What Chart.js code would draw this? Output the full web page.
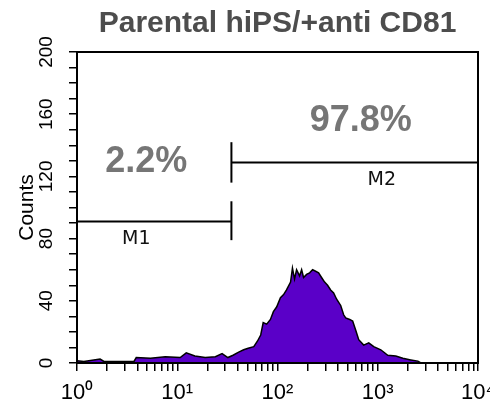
<!DOCTYPE html>
<html>
<head>
<meta charset="utf-8">
<script src="https://cdn.jsdelivr.net/npm/chart.js@4"></script>
<style>
  html, body { margin: 0; padding: 0; background: #fff; }
  #wrap { width: 490px; height: 406px; }
</style>
</head>
<body>
<div id="wrap"><canvas id="chart"></canvas></div>
<script>
// histogram: fluorescence intensity vs counts
const histX = [1, 1.17, 1.7, 1.86, 2.7, 3.7, 3.9, 5.4, 7.6, 10.7, 12.3, 15, 19, 24, 28, 32, 36, 41, 46, 51,
  58, 63, 68, 72, 78, 85, 91, 98, 107, 115, 123, 135, 141, 148, 155, 166, 174, 182, 195, 209,
  224, 240, 257, 275, 295, 316, 339, 363, 389, 427, 457, 479, 525, 562, 603, 646, 724, 813, 912, 1072,
  1259, 1514, 1778, 2138, 2512, 2692, 10000];
const histY = [1.5, 1, 2.5, 1, 1, 1, 3.5, 3, 4, 3.5, 6.5, 4.5, 3.5, 4, 6, 3.5, 5, 7, 8.5, 9.5,
  10.5, 14, 18, 26, 25, 28, 33, 36, 42, 44, 47, 52, 61, 54, 60, 56, 60, 55, 57, 58,
  60, 59, 58, 55, 52, 50, 47, 45, 41, 37, 31, 29, 28, 27, 21, 15, 11.5, 13, 10.5, 8.5,
  5, 4.5, 3, 2, 1.2, 0, 0];

// markers M1 / M2
const gateNames = ['M1', 'M2'];
const gateStart = [1, 34.7];
const gateEnd = [34.7, 10000];
const gateLevel = [91, 129];
const gateTickLow = [79, 116];
const gateTickHigh = [104, 142];
const gateLabelX = [3.9, 1096];
const gateLabelY = [79.5, 117.5];

const percentText = ['2.2%', '97.8%'];
const percentX = [4.9, 676];
const percentY = [129, 155.5];

const xTickValues = [1, 2, 3, 4, 5, 6, 7, 8, 9, 10, 20, 30, 40, 50, 60, 70, 80, 90,
  100, 200, 300, 400, 500, 600, 700, 800, 900, 1000, 2000, 3000, 4000, 5000, 6000, 7000, 8000, 9000, 10000];
const supers = ['\u2070', '\u00b9', '\u00b2', '\u00b3', '\u2074'];

Chart.defaults.font.family = "'Liberation Sans', Arial, sans-serif";
Chart.defaults.color = '#000';

const datasets = [{
  data: histX.map((x, i) => ({ x: x, y: histY[i] })),
  borderColor: '#000',
  borderWidth: 1.5,
  backgroundColor: '#5a00c8',
  fill: 'origin',
  pointRadius: 0,
  tension: 0
}];

gateNames.forEach((n, i) => {
  const seg = { borderColor: '#000', borderWidth: 2, pointRadius: 0, fill: false };
  datasets.push(Object.assign({ data: [{ x: gateStart[i], y: gateLevel[i] }, { x: gateEnd[i], y: gateLevel[i] }] }, seg));
  datasets.push(Object.assign({ data: [{ x: gateStart[i], y: gateTickLow[i] }, { x: gateStart[i], y: gateTickHigh[i] }] }, seg));
  datasets.push(Object.assign({ data: [{ x: gateEnd[i], y: gateTickLow[i] }, { x: gateEnd[i], y: gateTickHigh[i] }] }, seg));
});

const textPlugin = {
  id: 'facsText',
  afterDraw(chart) {
    const { ctx, chartArea: a, scales: { x, y } } = chart;
    ctx.save();
    // box around plot
    ctx.strokeStyle = '#000';
    ctx.lineWidth = 2;
    ctx.strokeRect(a.left, a.top, a.right - a.left, a.bottom - a.top);
    ctx.textAlign = 'center';
    ctx.textBaseline = 'middle';
    ctx.fillStyle = '#767676';
    ctx.font = "bold 36px 'Liberation Sans', Arial, sans-serif";
    percentText.forEach((t, i) => ctx.fillText(t, x.getPixelForValue(percentX[i]), y.getPixelForValue(percentY[i])));
    ctx.fillStyle = '#111';
    ctx.font = "19px 'DejaVu Sans', sans-serif";
    gateNames.forEach((t, i) => ctx.fillText(t, x.getPixelForValue(gateLabelX[i]), y.getPixelForValue(gateLabelY[i])));
    ctx.restore();
  }
};

new Chart(document.getElementById('chart'), {
  type: 'line',
  data: { datasets: datasets },
  options: {
    responsive: true,
    maintainAspectRatio: false,
    animation: false,
    layout: { padding: { left: 0, right: 12, top: 0, bottom: 0 } },
    plugins: {
      legend: { display: false },
      tooltip: { enabled: false },
      title: {
        display: true,
        fullSize: false,
        text: 'Parental hiPS/+anti CD81',
        color: '#4d4d4d',
        font: { size: 30, weight: 'bold' },
        padding: { top: 6, bottom: 10 }
      }
    },
    scales: {
      x: {
        type: 'logarithmic',
        min: 1,
        max: 10000,
        afterBuildTicks: s => { s.ticks = xTickValues.map(v => ({ value: v })); },
        afterFit: s => { s.height = 43; s.paddingLeft = 0; s.paddingRight = 0; },
        ticks: {
          autoSkip: false,
          maxRotation: 0,
          padding: 9,
          font: { size: 22 },
          callback: v => {
            const e = Math.round(Math.log10(v));
            return Math.abs(v - Math.pow(10, e)) < 1e-6 ? '10' + supers[e] : '';
          }
        },
        grid: { drawOnChartArea: false, drawTicks: true, tickLength: 8, color: '#000', lineWidth: 1.5 },
        border: { display: true, color: '#000', width: 2 }
      },
      y: {
        min: 0,
        max: 200,
        afterFit: s => { s.width = 77; s.paddingTop = 0; s.paddingBottom = 0; },
        title: { display: true, text: 'Counts', font: { size: 21 }, padding: { top: 15, bottom: 0 } },
        ticks: {
          stepSize: 10,
          autoSkip: false,
          minRotation: 90,
          maxRotation: 90,
          crossAlign: 'center',
          padding: 6,
          font: { size: 19 },
          callback: v => (v % 40 === 0 ? v : '')
        },
        grid: { drawOnChartArea: false, drawTicks: true, tickLength: 8, color: '#000', lineWidth: 1.5 },
        border: { display: true, color: '#000', width: 2 }
      }
    }
  },
  plugins: [textPlugin]
});
</script>
</body>
</html>
